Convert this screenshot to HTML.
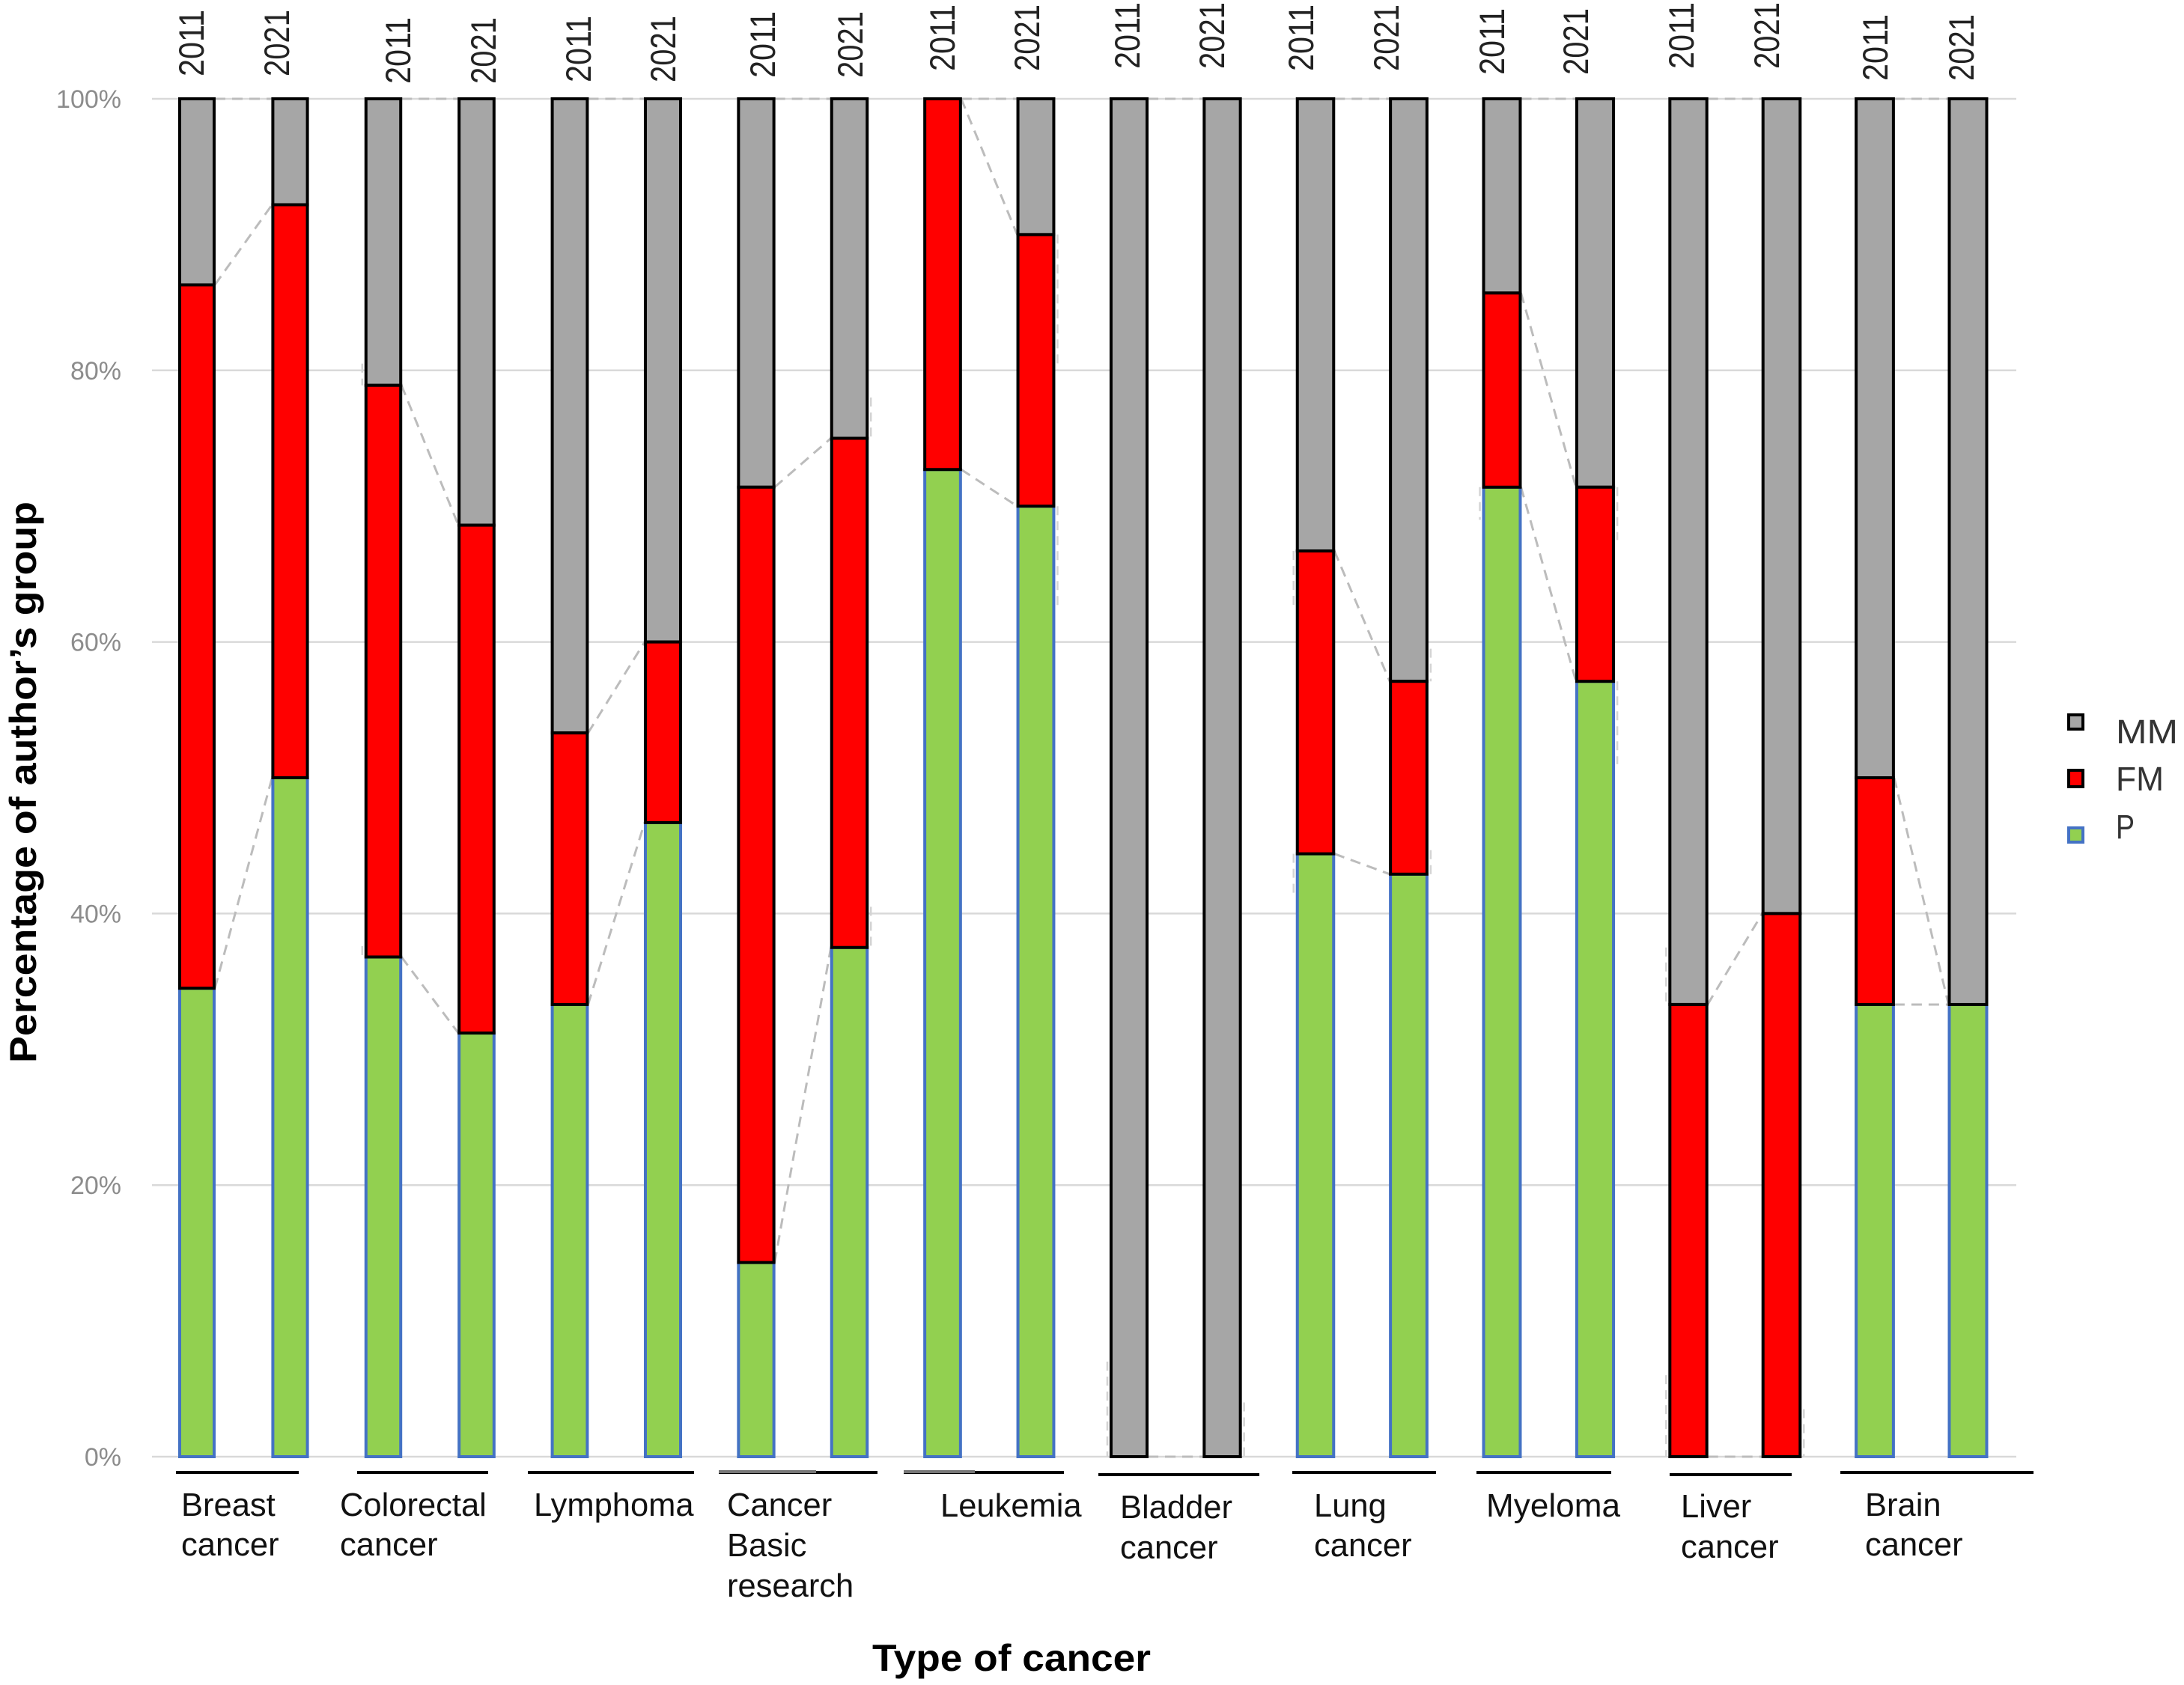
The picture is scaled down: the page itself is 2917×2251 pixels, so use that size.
<!DOCTYPE html>
<html lang="en">
<head>
<meta charset="utf-8">
<title>Percentage of author's group by type of cancer</title>
<style>
html,body{margin:0;padding:0;background:#fff;}
svg{display:block;font-family:"Liberation Sans",sans-serif;}
.yr{font-size:47px;fill:#222;}
.grp{font-size:43.5px;fill:#111;}
.tick{font-size:34px;fill:#8c8c8c;text-anchor:end;}
.leg{font-size:45px;fill:#333;}
.bracket{stroke:#000;stroke-width:4;}
</style>
</head>
<body>
<svg id="chart" xmlns="http://www.w3.org/2000/svg" width="2917" height="2251" viewBox="0 0 2917 2251">
  <rect x="0" y="0" width="2917" height="2251" fill="#fff"/>
  <g id="grid"></g>
  <g id="connectors"></g>
  <g id="bars"></g>
  <g id="yticks"></g>

  <g>
    <text class="yr" textLength="89" lengthAdjust="spacingAndGlyphs" x="272" y="102" transform="rotate(-90 272 102)">2011</text>
    <text class="yr" textLength="89" lengthAdjust="spacingAndGlyphs" x="386" y="102" transform="rotate(-90 386 102)">2021</text>
    <text class="yr" textLength="89" lengthAdjust="spacingAndGlyphs" x="548" y="112" transform="rotate(-90 548 112)">2011</text>
    <text class="yr" textLength="89" lengthAdjust="spacingAndGlyphs" x="662" y="112" transform="rotate(-90 662 112)">2021</text>
    <text class="yr" textLength="89" lengthAdjust="spacingAndGlyphs" x="789" y="110" transform="rotate(-90 789 110)">2011</text>
    <text class="yr" textLength="89" lengthAdjust="spacingAndGlyphs" x="902" y="110" transform="rotate(-90 902 110)">2021</text>
    <text class="yr" textLength="89" lengthAdjust="spacingAndGlyphs" x="1035" y="104" transform="rotate(-90 1035 104)">2011</text>
    <text class="yr" textLength="89" lengthAdjust="spacingAndGlyphs" x="1152" y="104" transform="rotate(-90 1152 104)">2021</text>
    <text class="yr" textLength="89" lengthAdjust="spacingAndGlyphs" x="1275" y="95" transform="rotate(-90 1275 95)">2011</text>
    <text class="yr" textLength="89" lengthAdjust="spacingAndGlyphs" x="1388" y="95" transform="rotate(-90 1388 95)">2021</text>
    <text class="yr" textLength="89" lengthAdjust="spacingAndGlyphs" x="1522" y="92" transform="rotate(-90 1522 92)">2011</text>
    <text class="yr" textLength="89" lengthAdjust="spacingAndGlyphs" x="1635" y="92" transform="rotate(-90 1635 92)">2021</text>
    <text class="yr" textLength="89" lengthAdjust="spacingAndGlyphs" x="1754" y="95" transform="rotate(-90 1754 95)">2011</text>
    <text class="yr" textLength="89" lengthAdjust="spacingAndGlyphs" x="1868" y="95" transform="rotate(-90 1868 95)">2021</text>
    <text class="yr" textLength="89" lengthAdjust="spacingAndGlyphs" x="2009" y="100" transform="rotate(-90 2009 100)">2011</text>
    <text class="yr" textLength="89" lengthAdjust="spacingAndGlyphs" x="2121" y="100" transform="rotate(-90 2121 100)">2021</text>
    <text class="yr" textLength="89" lengthAdjust="spacingAndGlyphs" x="2262" y="92" transform="rotate(-90 2262 92)">2011</text>
    <text class="yr" textLength="89" lengthAdjust="spacingAndGlyphs" x="2376" y="92" transform="rotate(-90 2376 92)">2021</text>
    <text class="yr" textLength="89" lengthAdjust="spacingAndGlyphs" x="2521" y="108" transform="rotate(-90 2521 108)">2011</text>
    <text class="yr" textLength="89" lengthAdjust="spacingAndGlyphs" x="2636" y="108" transform="rotate(-90 2636 108)">2021</text>
  </g>

  <g>
    <line class="bracket" x1="235" x2="399" y1="1967" y2="1967"/>
    <line class="bracket" x1="477" x2="652" y1="1967" y2="1967"/>
    <line class="bracket" x1="705" x2="927" y1="1967" y2="1967"/>
    <line class="bracket" x1="960" x2="1172" y1="1967" y2="1967"/>
    <line x1="960" x2="1090" y1="1966" y2="1966" stroke="#777" stroke-width="4"/>
    <line class="bracket" x1="1207" x2="1421" y1="1967" y2="1967"/>
    <line x1="1207" x2="1302" y1="1966" y2="1966" stroke="#777" stroke-width="4"/>
    <line class="bracket" x1="1467" x2="1682" y1="1970" y2="1970"/>
    <line class="bracket" x1="1726" x2="1918" y1="1967" y2="1967"/>
    <line class="bracket" x1="1972" x2="2152" y1="1967" y2="1967"/>
    <line class="bracket" x1="2230" x2="2393" y1="1970" y2="1970"/>
    <line class="bracket" x1="2458" x2="2716" y1="1967" y2="1967"/>
  </g>

  <g>
    <text class="grp"><tspan x="242" y="2025">Breast</tspan><tspan x="242" y="2078">cancer</tspan></text>
    <text class="grp"><tspan x="454" y="2025">Colorectal</tspan><tspan x="454" y="2078">cancer</tspan></text>
    <text class="grp"><tspan x="713" y="2025">Lymphoma</tspan></text>
    <text class="grp"><tspan x="971" y="2025">Cancer</tspan><tspan x="971" y="2079">Basic</tspan><tspan x="971" y="2133">research</tspan></text>
    <text class="grp"><tspan x="1256" y="2026">Leukemia</tspan></text>
    <text class="grp"><tspan x="1496" y="2028">Bladder</tspan><tspan x="1496" y="2082">cancer</tspan></text>
    <text class="grp"><tspan x="1755" y="2026">Lung</tspan><tspan x="1755" y="2079">cancer</tspan></text>
    <text class="grp"><tspan x="1985" y="2026" textLength="179" lengthAdjust="spacingAndGlyphs">Myeloma</tspan></text>
    <text class="grp"><tspan x="2245" y="2027">Liver</tspan><tspan x="2245" y="2081">cancer</tspan></text>
    <text class="grp"><tspan x="2491" y="2025">Brain</tspan><tspan x="2491" y="2078">cancer</tspan></text>
  </g>

  <text x="48" y="1420" transform="rotate(-90 48 1420)" font-size="50" font-weight="bold" fill="#000" textLength="750" lengthAdjust="spacingAndGlyphs">Percentage of author’s group</text>
  <text x="1165" y="2232" font-size="50" font-weight="bold" fill="#000" textLength="372" lengthAdjust="spacingAndGlyphs">Type of cancer</text>

  <g>
    <rect x="2763" y="955" width="19" height="19" fill="#a6a6a6" stroke="#000" stroke-width="4"/>
    <text class="leg" x="2826" y="993" textLength="83" lengthAdjust="spacingAndGlyphs">MM</text>
    <rect x="2763" y="1029" width="19" height="22" fill="#ff0000" stroke="#000" stroke-width="4"/>
    <text class="leg" x="2826" y="1056" textLength="64" lengthAdjust="spacingAndGlyphs">FM</text>
    <rect x="2763" y="1106" width="19" height="19" fill="#92d050" stroke="#4472c4" stroke-width="4"/>
    <text class="leg" x="2826" y="1120" textLength="25" lengthAdjust="spacingAndGlyphs">P</text>
  </g>
</svg>

<script>
// Chart data: share of each author group (%), alternating 2011 / 2021 per cancer type
const categories = ["Breast cancer","Colorectal cancer","Lymphoma","Cancer Basic research","Leukemia","Bladder cancer","Lung cancer","Myeloma","Liver cancer","Brain cancer"];
const years = [2011, 2021];
const pValues  = [34.5,50,36.8,31.2,33.3,46.7,14.3,37.5,72.7,70,0,0,44.4,42.9,71.4,57.1,0,0,33.3,33.3];
const fmValues = [51.8,42.2,42.1,37.4,20,13.3,57.1,37.5,27.3,20,0,0,22.3,14.2,14.3,14.3,33.3,40,16.7,0];
const mmValues = [13.7,7.8,21.1,31.4,46.7,40,28.6,25,0,10,100,100,33.3,42.9,14.3,28.6,66.7,60,50,66.7];
const yTickValues = [0,20,40,60,80,100];
// Short stray connector dashes outside the bar pairs: bar number, from %, to %
const tailBars = [2,2,7,7,9,9,10,11,12,12,13,13,14,15,15,16,16,17];
const tailFrom = [80.5,37.6,78,40.5,90,70,7,4,66.7,44.4,59.5,42.9,71.4,71.4,57.1,37.5,6,3.5];
const tailTo   = [78.9,36.8,75,37.5,80,62.5,0,0,62.5,41.5,57.1,45,69,67.5,51,33.3,0,0];

const NS = "http://www.w3.org/2000/svg";
const yScale = function (v) { return 1946 - v * 18.14; };
const xCenter = function (i) { return 263 + i * 124.5; };
const barWidth = function (i) { return 48 + 4 * i / 19; };

function make(tag, parent, attrs) {
  const el = document.createElementNS(NS, tag);
  Object.keys(attrs).forEach(function (k) { el.setAttribute(k, attrs[k]); });
  parent.appendChild(el);
  return el;
}

const gridG = document.getElementById("grid");
const tickG = document.getElementById("yticks");
yTickValues.forEach(function (v) {
  const ln = make("line", gridG, {x1: 203, x2: 2693, y1: yScale(v), y2: yScale(v), stroke: "#d9d9d9", "stroke-width": 2.5});
  
  
  const t = make("text", tickG, {x: 162, y: yScale(v) + 12, class: "tick"});
  
  
  t.textContent = v + "%";
});

const connG = document.getElementById("connectors");
const dashStyle = {stroke: "#bcbcbc", "stroke-width": 3, "stroke-dasharray": "14 9", fill: "none"};
const tailStyle = {stroke: "#d4d4d4", "stroke-width": 2.5, "stroke-dasharray": "12 8", fill: "none"};
function cumulative(i) {
  return [pValues[i], pValues[i] + fmValues[i], pValues[i] + fmValues[i] + mmValues[i]];
}
for (let i = 0; i + 1 < pValues.length; i += 2) {
  const a = cumulative(i);
  const b = cumulative(i + 1);
  for (let k = 0; k < 3; k++) {
    const c = make("line", connG, Object.assign({
      x1: xCenter(i) + barWidth(i) / 2, y1: yScale(a[k]),
      x2: xCenter(i + 1) - barWidth(i + 1) / 2, y2: yScale(b[k])
    }, dashStyle));
    
    
  }
}
tailBars.forEach(function (bar, n) {
  const side = bar % 2 === 0 ? -1 : 1;
  const edge = xCenter(bar) + side * (barWidth(bar) / 2 + 4);
  const c = make("line", connG, Object.assign({
    x1: edge, y1: yScale(tailFrom[n]), x2: edge, y2: yScale(tailTo[n])
  }, tailStyle));
  
  
});

const barsG = document.getElementById("bars");
function segment(i, base, value, fill, stroke, name) {
  if (value <= 0) return;
  const w = barWidth(i);
  const r = make("rect", barsG, {
    x: xCenter(i) - w / 2 + 1, y: yScale(base + value),
    width: w - 2, height: yScale(base) - yScale(base + value),
    fill: fill, stroke: stroke, "stroke-width": 4
  });
  
  
  const title = make("title", r, {});
  title.textContent = categories[Math.floor(i / 2)] + " " + years[i % 2] + ": " + value + "%";
}
pValues.forEach(function (p, i) {
  segment(i, 0, p, "#92d050", "#4472c4", "bar-segment-p");
});
pValues.forEach(function (p, i) {
  segment(i, p + fmValues[i], mmValues[i], "#a6a6a6", "#000", "bar-segment-mm");
});
pValues.forEach(function (p, i) {
  segment(i, p, fmValues[i], "#ff0000", "#000", "bar-segment-fm");
});
</script>
</body>
</html>
